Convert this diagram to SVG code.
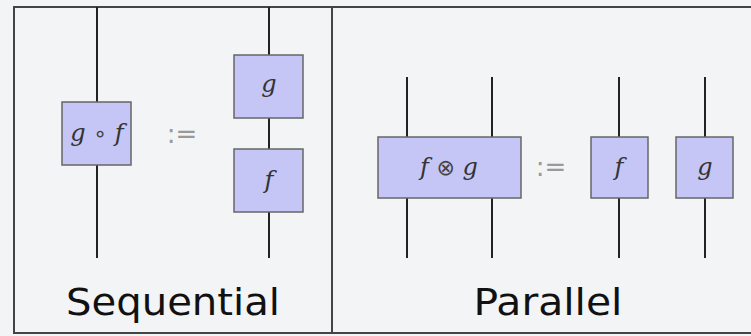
<svg xmlns="http://www.w3.org/2000/svg" width="751" height="336" viewBox="0 0 751 336">
<style>
.wire{stroke:#222;stroke-width:2;fill:none}
.box{fill:#c6c6f6;stroke:#666;stroke-width:1.5}
.math{font-family:'DejaVu Serif',serif;font-style:italic;font-size:24px;fill:#333;text-anchor:middle}
.op{font-family:'DejaVu Sans',sans-serif;font-style:normal;font-size:22px;fill:#444}
.def{font-family:'DejaVu Sans',sans-serif;font-size:26px;fill:#999;text-anchor:middle}
.title{font-family:'DejaVu Sans','Liberation Sans',sans-serif;font-size:38px;fill:#111;text-anchor:middle}
</style>
<rect x="0" y="0" width="751" height="336" fill="#f3f4f6"/>
<g id="frame" fill="none" stroke="#444" stroke-width="2">
<rect x="14" y="7" width="745" height="326"/>
<line x1="332" y1="7" x2="332" y2="333"/>
</g>
<g id="connectors">
<line class="wire" x1="97" y1="7" x2="97" y2="102"/>
<line class="wire" x1="97" y1="165" x2="97" y2="258"/>
<line class="wire" x1="269" y1="7" x2="269" y2="55"/>
<line class="wire" x1="269" y1="118" x2="269" y2="149"/>
<line class="wire" x1="269" y1="212" x2="269" y2="258"/>
<line class="wire" x1="407" y1="77" x2="407" y2="137"/>
<line class="wire" x1="407" y1="198" x2="407" y2="258"/>
<line class="wire" x1="492" y1="77" x2="492" y2="137"/>
<line class="wire" x1="492" y1="198" x2="492" y2="258"/>
<line class="wire" x1="619" y1="77" x2="619" y2="137"/>
<line class="wire" x1="619" y1="198" x2="619" y2="258"/>
<line class="wire" x1="705" y1="77" x2="705" y2="137"/>
<line class="wire" x1="705" y1="198" x2="705" y2="258"/>
</g>
<g id="node-gof">
<rect class="box" x="62" y="102" width="69" height="63"/>
<text class="math" x="97" y="141">g <tspan class="op">∘</tspan> f</text>
</g>
<text class="def" x="182" y="143">:=</text>
<g id="node-g1">
<rect class="box" x="234" y="55" width="69" height="63"/>
<text class="math" x="269" y="92">g</text>
</g>
<g id="node-f1">
<rect class="box" x="234" y="149" width="69" height="63"/>
<text class="math" x="269" y="188">f</text>
</g>
<g id="node-fxg">
<rect class="box" x="378" y="137" width="143" height="61"/>
<text class="math" x="449" y="175">f <tspan class="op">⊗</tspan> g</text>
</g>
<text class="def" x="551" y="176">:=</text>
<g id="node-f2">
<rect class="box" x="591" y="137" width="57" height="61"/>
<text class="math" x="619" y="175">f</text>
</g>
<g id="node-g2">
<rect class="box" x="676" y="137" width="57" height="61"/>
<text class="math" x="705" y="175">g</text>
</g>
<text class="title" x="173" y="315" textLength="214" lengthAdjust="spacingAndGlyphs">Sequential</text>
<text class="title" x="548" y="315" textLength="149" lengthAdjust="spacingAndGlyphs">Parallel</text>
</svg>
